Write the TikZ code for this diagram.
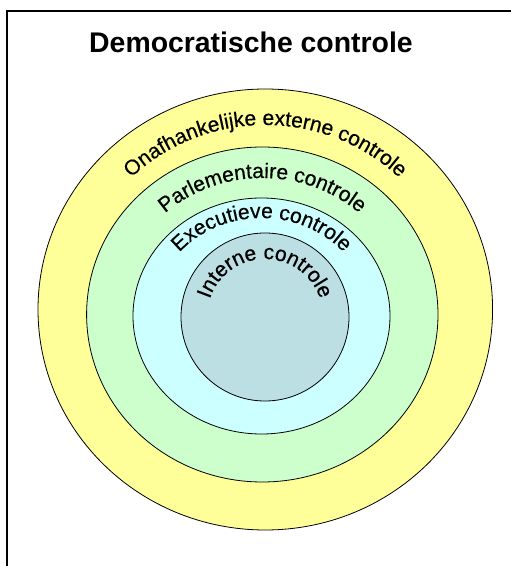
\documentclass[tikz,border=0pt]{standalone}
\usepackage{fontspec}
\setmainfont{Liberation Sans}
\newfontface\ringface[FakeBold=0.5]{Liberation Sans}
\usetikzlibrary{decorations.text}
\definecolor{extyellow}{HTML}{FFFF99}
\definecolor{parlgreen}{HTML}{CCFFCC}
\definecolor{execcyan}{HTML}{CCFFFF}
\definecolor{intblue}{HTML}{BBDFE2}
\newcommand\ringfont{\ringface\fontsize{21}{25}\selectfont}
\tikzset{
  ring/.style={draw=black, line width=0.8pt},
  ringtext/.style={decorate, decoration={text along path, text align=center, text={|\ringfont|#1}}}
}
\begin{document}
\begin{tikzpicture}[x=1pt,y=1pt]
% 511 x 566 = size of the picture
\useasboundingbox (0,0) rectangle (511,566);
\clip (0,0) rectangle (511,566);
% frame, only left and top edge fall inside
\draw[line width=1.8pt] (6.7,-20) rectangle (530,555.3);
\node[font=\bfseries\fontsize{28.4}{34}\selectfont, anchor=base] (title) at (251,513) {Democratische controle};
% centres of the rings
\coordinate (extc) at (265.3,256.5);
\coordinate (parlc) at (262.3,251.5);
\coordinate (execc) at (261.5,250);
\coordinate (intc) at (265,249);
% outer to inner
\foreach \c/\rx/\ry/\col in {extc/227.3/220.5/extyellow,parlc/175.7/167.5/parlgreen,execc/128.5/118/execcyan,intc/84/84/intblue}{
  \draw[ring, fill=\col] (\c) ellipse [x radius=\rx pt, y radius=\ry pt];
}
% labels on the rings, baseline 36/31/20/24 px below each ring top
\path[ringtext={Onafhankelijke externe controle}] (extc) ++(170:191.3pt and 184.5pt) arc[start angle=170, end angle=10, x radius=191.3pt, y radius=184.5pt];
\path[ringtext={Parlementaire controle}] (parlc) ++(170:145pt and 136.5pt) arc[start angle=170, end angle=10, x radius=145pt, y radius=136.5pt];
\path[ringtext={Executieve controle}] (execc) ++(170:108pt and 98pt) arc[start angle=170, end angle=10, x radius=108pt, y radius=98pt];
\path[ringtext={Interne controle}] (intc) ++(175:58pt and 58pt) arc[start angle=175, end angle=5, x radius=58pt, y radius=58pt];
\end{tikzpicture}
\end{document}
